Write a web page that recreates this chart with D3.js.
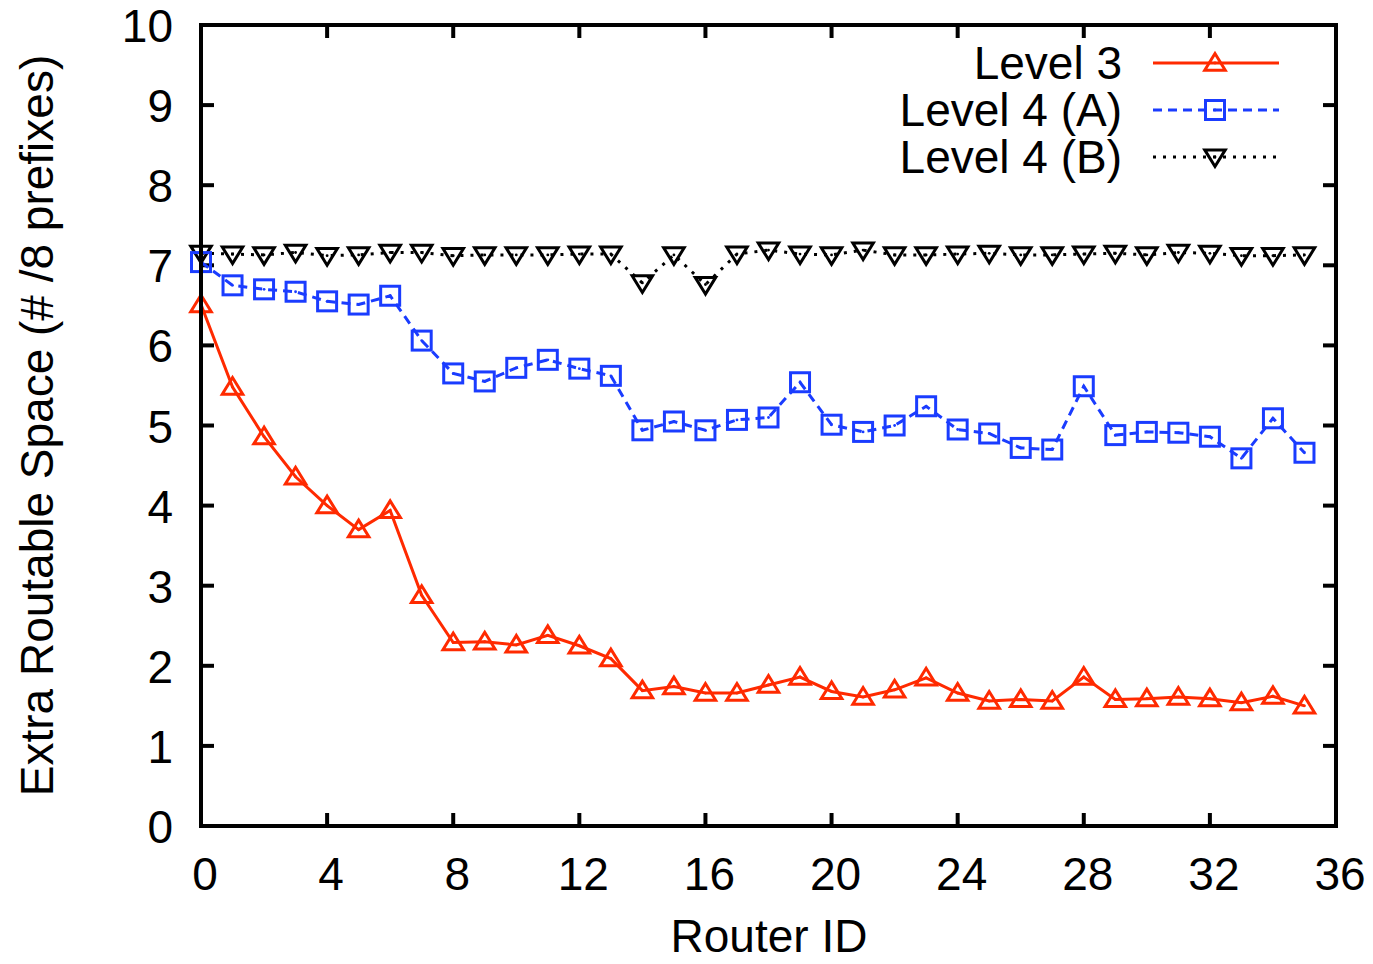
<!DOCTYPE html>
<html lang="en">
<head>
<meta charset="UTF-8">
<script src="https://d3js.org/d3.v7.min.js"></script>
<title>Extra Routable Space</title>
<style>
  body { margin: 0; background: #fff; }
  text { font-family: "Liberation Sans", Arial, sans-serif; fill: #000; }
</style>
</head>
<body>
<svg id="chart" width="1373" height="964"></svg>
<script>
// router ids 0..35
var routerIds = [0,1,2,3,4,5,6,7,8,9,10,11,12,13,14,15,16,17,18,19,20,21,22,23,24,25,26,27,28,29,30,31,32,33,34,35];

var level3 = [6.51,5.48,4.86,4.36,4.00,3.70,3.94,2.88,2.29,2.30,2.26,2.38,2.25,2.09,1.69,1.74,1.66,1.66,
              1.76,1.86,1.68,1.61,1.70,1.85,1.66,1.56,1.58,1.56,1.86,1.58,1.59,1.61,1.59,1.54,1.62,1.50];
var level4A = [7.04,6.75,6.70,6.67,6.55,6.51,6.62,6.06,5.65,5.55,5.72,5.82,5.71,5.62,4.94,5.05,4.94,5.07,
               5.10,5.54,5.01,4.92,5.00,5.24,4.95,4.90,4.72,4.70,5.49,4.88,4.92,4.91,4.86,4.59,5.09,4.66];
var level4B = [7.15,7.14,7.13,7.16,7.12,7.13,7.16,7.16,7.12,7.13,7.13,7.13,7.14,7.14,6.78,7.13,6.76,7.14,
               7.19,7.14,7.13,7.19,7.13,7.13,7.14,7.15,7.13,7.13,7.14,7.15,7.13,7.16,7.15,7.12,7.12,7.13];

var xTicks = [0,4,8,12,16,20,24,28,32,36];
var yTicks = [0,1,2,3,4,5,6,7,8,9,10];

var series = [
  {name: "Level 3",     values: level3,  color: "#ff2a00", dash: null,  marker: "up"},
  {name: "Level 4 (A)", values: level4A, color: "#1a3cff", dash: "9,6", marker: "square"},
  {name: "Level 4 (B)", values: level4B, color: "#000000", dash: "3,7", marker: "down"}
];

var svg = d3.select("#chart");
var pLeft = 201, pRight = 1336, pTop = 25, pBottom = 826;
var fontSize = "46px";

var x = d3.scaleLinear().domain([0, 36]).range([pLeft, pRight]);
var y = d3.scaleLinear().domain([0, 10]).range([pBottom, pTop]);

// ticks on all four sides, pointing inward
var tickLen = 13;
var ticks = svg.append("g").attr("stroke", "#000").attr("stroke-width", 4);
xTicks.forEach(function(t) {
  ticks.append("line").attr("x1", x(t)).attr("x2", x(t)).attr("y1", pBottom).attr("y2", pBottom - tickLen);
  ticks.append("line").attr("x1", x(t)).attr("x2", x(t)).attr("y1", pTop).attr("y2", pTop + tickLen);
});
yTicks.forEach(function(t) {
  ticks.append("line").attr("x1", pLeft).attr("x2", pLeft + tickLen).attr("y1", y(t)).attr("y2", y(t));
  ticks.append("line").attr("x1", pRight).attr("x2", pRight - tickLen).attr("y1", y(t)).attr("y2", y(t));
});

svg.append("g").selectAll("text").data(xTicks).join("text")
  .attr("x", function(d) { return x(d) + 4; })
  .attr("y", 890)
  .attr("text-anchor", "middle")
  .style("font-size", fontSize)
  .text(function(d) { return d; });

svg.append("g").selectAll("text").data(yTicks).join("text")
  .attr("x", 173)
  .attr("y", function(d) { return y(d) + 17; })
  .attr("text-anchor", "end")
  .style("font-size", fontSize)
  .text(function(d) { return d; });

svg.append("text")
  .attr("x", 769).attr("y", 952)
  .attr("text-anchor", "middle")
  .style("font-size", fontSize)
  .text("Router ID");

svg.append("text")
  .attr("transform", "translate(53," + ((pTop + pBottom) / 2) + ") rotate(-90)")
  .attr("text-anchor", "middle")
  .style("font-size", fontSize)
  .text("Extra Routable Space (# /8 prefixes)");

// marker drawing
function drawMarker(g, kind, cx, cy, color) {
  if (kind === "square") {
    g.append("rect").attr("x", cx - 9.5).attr("y", cy - 9.5).attr("width", 19).attr("height", 19)
      .attr("fill", "none").attr("stroke", color).attr("stroke-width", 3);
  } else {
    var s = 9.5;
    var pts = kind === "up"
      ? [[cx, cy - s], [cx - s * 1.08, cy + s * 0.75], [cx + s * 1.08, cy + s * 0.75]]
      : [[cx, cy + s], [cx - s * 1.08, cy - s * 0.75], [cx + s * 1.08, cy - s * 0.75]];
    g.append("polygon").attr("points", pts.map(function(p) { return p.join(","); }).join(" "))
      .attr("fill", "none").attr("stroke", color).attr("stroke-width", 3).attr("stroke-linejoin", "miter");
  }
  g.append("circle").attr("cx", cx).attr("cy", cy).attr("r", 1.4).attr("fill", color);
}

var line = d3.line()
  .x(function(d, i) { return x(routerIds[i]); })
  .y(function(d) { return y(d); });

series.slice().reverse().forEach(function(s) {
  var g = svg.append("g");
  g.append("path").datum(s.values)
    .attr("d", line)
    .attr("fill", "none")
    .attr("stroke", s.color)
    .attr("stroke-width", 3)
    .attr("stroke-dasharray", s.dash);
  s.values.forEach(function(v, i) { drawMarker(g, s.marker, x(routerIds[i]), y(v), s.color); });
});

// legend
var legendY = [63, 110, 157];
series.forEach(function(s, i) {
  var g = svg.append("g");
  g.append("text").attr("x", 1122).attr("y", legendY[i] + 16)
    .attr("text-anchor", "end").style("font-size", fontSize).text(s.name);
  g.append("line").attr("x1", 1153).attr("x2", 1279).attr("y1", legendY[i]).attr("y2", legendY[i])
    .attr("stroke", s.color).attr("stroke-width", 3).attr("stroke-dasharray", s.dash);
  drawMarker(g, s.marker, 1215, legendY[i], s.color);
});

// frame
svg.append("rect").attr("x", pLeft).attr("y", pTop).attr("width", pRight - pLeft).attr("height", pBottom - pTop)
  .attr("fill", "none").attr("stroke", "#000").attr("stroke-width", 4);
</script>
</body>
</html>
